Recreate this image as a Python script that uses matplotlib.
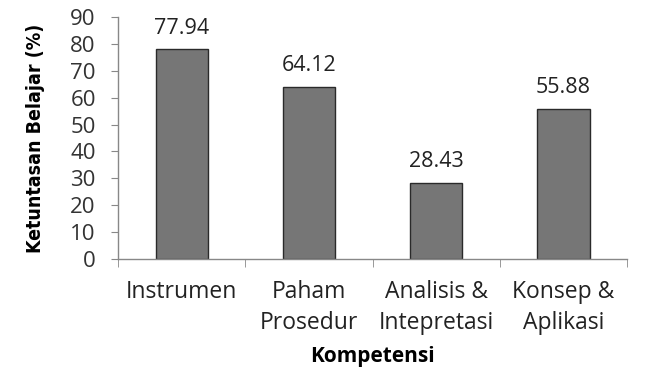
import numpy as np
import matplotlib.pyplot as plt

# Persentase ketuntasan belajar per kompetensi
kompetensi = ['Instrumen', 'Paham\nProsedur', 'Analisis &\nIntepretasi', 'Konsep &\nAplikasi']
ketuntasan = [77.94, 64.12, 28.43, 55.88]
yticks = [0, 10, 20, 30, 40, 50, 60, 70, 80, 90]

fnt = ['Open Sans', 'DejaVu Sans']

fig = plt.figure(figsize=(6.63, 3.71), dpi=100)
ax = fig.add_axes([0.178, 0.302, 0.768, 0.652])

x = np.arange(len(kompetensi))
ax.bar(x, ketuntasan, width=0.41, color='#767676', edgecolor='#2a2a2a', linewidth=1.0, zorder=2)

for xi, v in zip(x, ketuntasan):
    ax.text(xi, v + 4, f'{v:.2f}', ha='center', va='bottom', fontsize=15.5,
            family=fnt, color='#222222')

ax.set_xlim(-0.5, len(kompetensi) - 0.5)
ax.set_ylim(0, 90)
ax.set_yticks(yticks)
ax.set_yticklabels([str(t) for t in yticks], fontsize=16, family=fnt, color='#333333')
ax.set_xticks(x)
ax.set_xticklabels(kompetensi, fontsize=16.5, family=fnt, color='#222222', linespacing=1.4)
ax.set_xticks(list(np.arange(len(kompetensi)) - 0.5) + [len(kompetensi) - 0.5], minor=True)
ax.tick_params(axis='x', which='major', length=0, pad=15)
ax.tick_params(axis='x', which='minor', length=6, color='#888888', direction='out')
ax.tick_params(axis='y', length=5, color='#888888', direction='out', pad=11)

for side in ['top', 'right']:
    ax.spines[side].set_visible(False)
for side in ['left', 'bottom']:
    ax.spines[side].set_color('#888888')
    ax.spines[side].set_linewidth(1.0)

ax.set_ylabel('Ketuntasan Belajar (%)', fontsize=14, fontweight='bold',
              family='DejaVu Sans', fontstretch='condensed', labelpad=18)
ax.set_xlabel('Kompetensi', fontsize=15, fontweight='bold', family=fnt, labelpad=8)

fig.savefig('out.png', dpi=100)
